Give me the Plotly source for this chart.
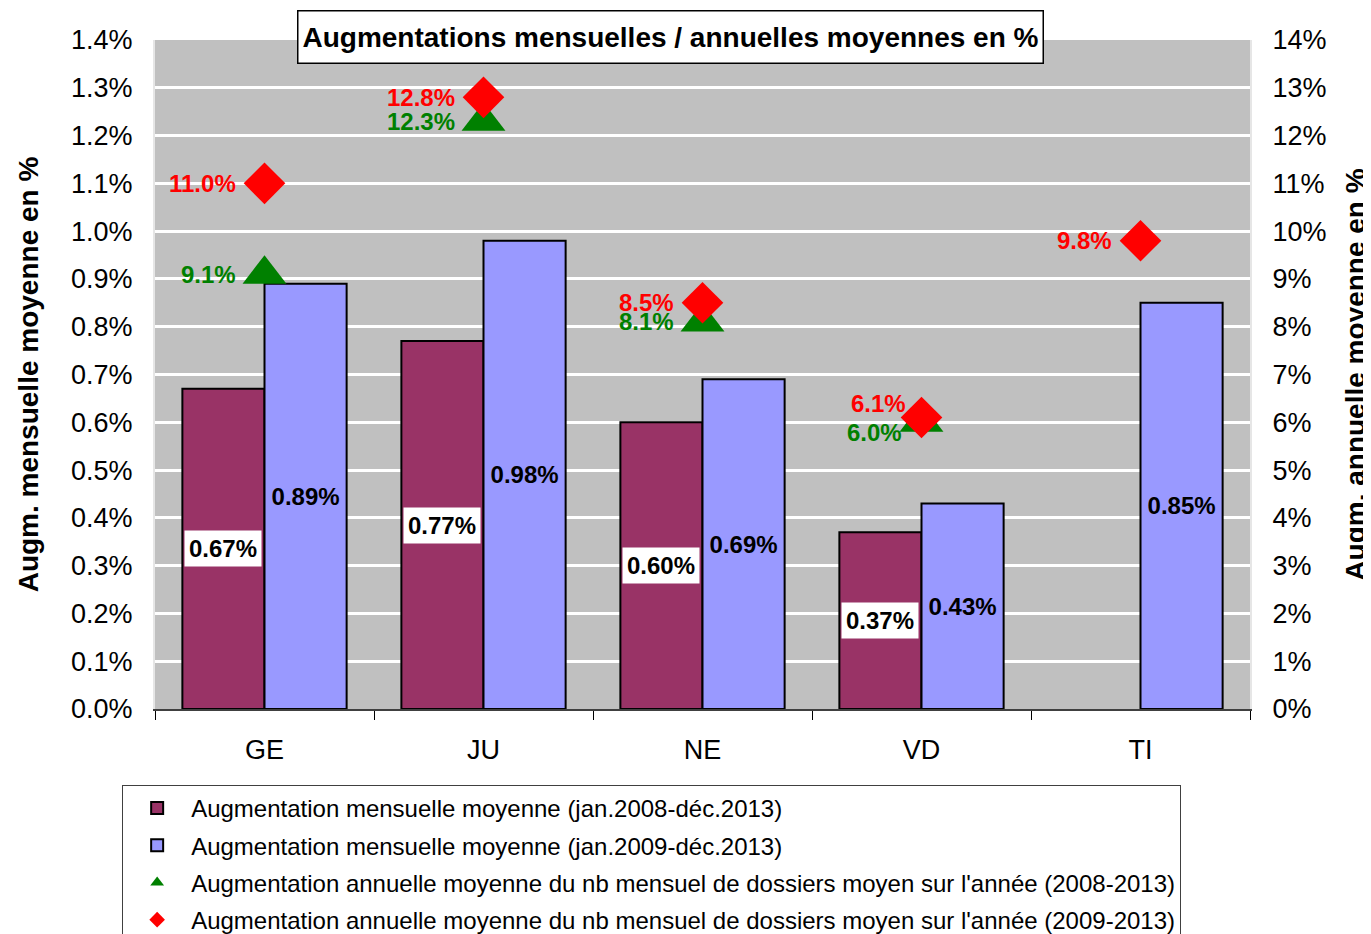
import plotly.graph_objects as go

# data
cantons = ["GE", "JU", "NE", "VD", "TI"]
mens_2008 = [0.67, 0.77, 0.60, 0.37, None]   # % par mois, jan.2008-déc.2013
mens_2009 = [0.89, 0.98, 0.69, 0.43, 0.85]   # % par mois, jan.2009-déc.2013
ann_2008 = [9.1, 12.3, 8.1, 6.0, None]       # % par an, 2008-2013
ann_2009 = [11.0, 12.8, 8.5, 6.1, 9.8]       # % par an, 2009-2013

names = [
    "Augmentation mensuelle moyenne (jan.2008-déc.2013)",
    "Augmentation mensuelle moyenne (jan.2009-déc.2013)",
    "Augmentation annuelle moyenne du nb mensuel de dossiers moyen sur l'année (2008-2013)",
    "Augmentation annuelle moyenne du nb mensuel de dossiers moyen sur l'année (2009-2013)",
]

FONT = "Liberation Sans, Arial, sans-serif"
BARGAP = 0.25
C_BAR1 = "#993366"
C_BAR2 = "#9999FF"
C_GREEN = "#008000"
C_RED = "#FF0000"

fig = go.Figure()

fig.add_trace(go.Bar(
    x=cantons, y=mens_2008, name=names[0], legendgroup="g1",
    marker=dict(color=C_BAR1, line=dict(color="black", width=2)),
    hoverinfo="skip",
))
fig.add_trace(go.Bar(
    x=cantons, y=mens_2009, name=names[1], legendgroup="g2",
    marker=dict(color=C_BAR2, line=dict(color="black", width=2)),
    text=[f"{v:.2f}%" for v in mens_2009],
    textposition="inside", insidetextanchor="middle", textangle=0,
    insidetextfont=dict(family=FONT, size=24, color="black", weight="bold"),
    constraintext="none", hoverinfo="skip",
))
fig.add_trace(go.Scatter(
    x=cantons, y=ann_2008, name=names[2], legendgroup="g3", yaxis="y2",
    mode="markers", marker=dict(symbol="triangle-up", size=38, color=C_GREEN),
    cliponaxis=False, hoverinfo="skip",
))
fig.add_trace(go.Scatter(
    x=cantons, y=ann_2009, name=names[3], legendgroup="g4", yaxis="y2",
    mode="markers", marker=dict(symbol="diamond", size=32, color=C_RED),
    cliponaxis=False, hoverinfo="skip",
))

annotations = []

# white-boxed labels on the first bar series
off = (1 - BARGAP) / 4
for i, v in enumerate(mens_2008):
    if v is None:
        continue
    annotations.append(dict(
        x=i - off, y=v / 2, xref="x", yref="y", text=f"{v:.2f}%", showarrow=False,
        font=dict(family=FONT, size=24, color="black", weight="bold"),
        bgcolor="white", borderpad=4,
    ))

# labels left of the markers; VD ones were moved by hand in the original
nudge = {("g", "VD"): (-18, -10), ("r", "VD"): (-14, 14)}
for key, vals, col in (("g", ann_2008, C_GREEN), ("r", ann_2009, C_RED)):
    for i, v in enumerate(vals):
        if v is None:
            continue
        dx, dy = nudge.get((key, cantons[i]), (-27, 0))
        annotations.append(dict(
            x=i, y=v, xref="x", yref="y2", text=f"{v:.1f}%", showarrow=False,
            xanchor="right", xshift=dx, yshift=dy,
            font=dict(family=FONT, size=24, color=col, weight="bold"),
        ))

annotations.append(dict(
    x=0.4712, y=1.004, xref="paper", yref="paper", xanchor="center", yanchor="middle",
    text="<b>Augmentations mensuelles / annuelles moyennes en %</b>", showarrow=False,
    font=dict(family=FONT, size=28, color="black"),
    width=738, height=45, align="center",
    bgcolor="white", bordercolor="black", borderwidth=1.5, borderpad=3,
))

# the page body adds 8px around the figure, so the figure is 8px smaller
fig.update_layout(
    template="none",
    width=1363, height=926,
    margin=dict(l=147, r=121, t=32, b=225, autoexpand=False),
    paper_bgcolor="white", plot_bgcolor="#C0C0C0",
    font=dict(family=FONT, size=27, color="black"),
    barmode="group", bargap=BARGAP, bargroupgap=0,
    showlegend=True,
    legend=dict(
        x=-0.03, y=-0.1135, xanchor="left", yanchor="top",
        font=dict(family=FONT, size=24, color="black"),
        bgcolor="white", bordercolor="#404040", borderwidth=1,
        tracegroupgap=3, itemsizing="constant", itemwidth=58,
    ),
    xaxis=dict(
        type="category", tickson="boundaries", ticks="outside", ticklen=9,
        tickwidth=1, tickcolor="black", showline=True, linecolor="#404040",
        linewidth=2, showgrid=False, ticklabelstandoff=16,
        tickfont=dict(family=FONT, size=27), automargin=False,
    ),
    yaxis=dict(
        range=[0, 1.4], dtick=0.1, tickformat=".1f", ticksuffix="%",
        showgrid=True, gridcolor="white", gridwidth=3, zeroline=False,
        ticks="", ticklabelstandoff=15, showline=True, linecolor="#E6E6E6",
        linewidth=2, automargin=False,
        tickfont=dict(family=FONT, size=27),
        title=dict(text="<b>Augm. mensuelle moyenne en %</b>", standoff=24,
                   font=dict(family=FONT, size=28)),
    ),
    yaxis2=dict(
        overlaying="y", side="right", range=[0, 14], dtick=1, ticksuffix="%",
        showgrid=False, zeroline=False, ticks="", ticklabelstandoff=15,
        showline=True, linecolor="#E6E6E6", linewidth=2, automargin=False,
        tickfont=dict(family=FONT, size=27),
        title=dict(text="<b>Augm. annuelle moyenne en %</b>", standoff=23,
                   font=dict(family=FONT, size=28)),
    ),
    annotations=annotations,
)

fig.write_html("out.html")
